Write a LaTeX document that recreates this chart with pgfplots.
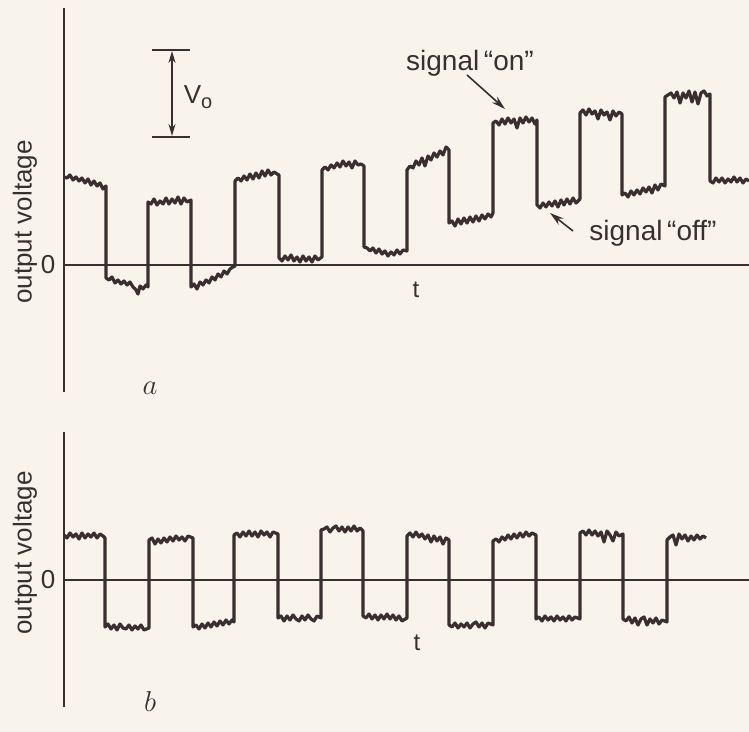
\documentclass[border=0pt]{standalone}
\usepackage{pgfplots}
\pgfplotsset{compat=1.18}
\usepackage{fontspec}
\setmainfont{Liberation Sans}
\usetikzlibrary{arrows.meta}
\definecolor{ink}{RGB}{58,46,48}
\definecolor{paper}{RGB}{248,244,236}

\pgfplotstableread{
x y
0 88
3 87
6 90
9 85
12 88
15 84
18 87
21 82
24 86
27 80
30 84
33 79
36 82
39 76
42 79
42 -13
45 -15
48 -12
51 -18
54 -15
57 -19
60 -16
63 -20
66 -17
69 -22
72 -25
74 -29
76 -21
79 -24
82 -20
84 -22
84 63
87 61
90 66
93 60
96 64
99 61
102 67
105 61
108 66
111 62
114 68
117 61
120 67
123 63
127 65
127 -22
130 -19
133 -24
136 -17
139 -20
142 -15
145 -18
148 -12
151 -15
154 -9
157 -12
160 -6
163 -9
166 -4
169 -2
171 -1
171 84
174 87
177 84
180 89
183 85
186 91
189 86
192 92
195 87
198 94
201 89
204 95
207 90
210 93
213 91
215 90
215 7
218 4
221 9
224 5
227 10
230 4
233 8
236 3
239 9
242 4
245 8
248 3
251 9
254 5
258 8
258 95
261 98
264 95
267 100
270 97
273 102
276 98
279 104
282 99
285 103
288 97
291 104
294 100
297 101
300 99
300 18
303 17
306 14
309 17
312 12
315 16
318 11
321 14
324 9
327 13
330 10
333 15
336 11
339 15
343 14
343 95
346 99
349 97
352 104
355 100
358 107
361 99
364 109
367 105
370 112
373 108
376 114
379 110
382 118
385 115
385 42
388 44
391 39
394 46
397 41
400 47
403 42
406 48
409 43
412 49
415 44
418 50
421 46
424 51
427 48
429 52
429 142
432 144
435 140
438 146
441 141
444 147
447 142
450 146
453 137
456 147
459 142
462 148
465 143
468 147
471 141
473 145
473 60
476 57
479 62
482 58
485 63
488 59
491 64
494 58
497 65
500 60
503 66
506 61
509 67
512 62
516 66
516 152
519 155
522 150
525 156
528 151
531 154
534 146
537 155
540 150
543 153
546 145
549 154
552 149
555 153
558 151
558 70
561 72
564 68
567 74
570 70
573 75
576 71
579 77
582 73
585 78
588 72
591 80
594 75
597 81
601 79
601 168
604 170
607 172
610 167
613 173
616 162
619 172
622 167
625 174
628 163
631 173
634 161
637 172
640 174
643 169
646 171
646 84
649 82
652 87
655 83
658 87
661 82
664 86
667 83
670 88
673 83
676 87
679 82
682 86
685 84
}\tracea

\pgfplotstableread{
x y
0 45
3 42
6 47
9 43
12 46
15 41
18 47
21 42
24 46
27 43
30 47
33 42
36 46
39 44
41 42
41 -47
44 -44
47 -49
50 -45
53 -50
56 -44
59 -48
62 -49
65 -45
68 -50
71 -46
74 -49
77 -45
80 -50
85 -48
85 40
88 42
91 36
94 41
97 37
100 42
103 38
106 43
109 39
112 44
115 40
118 43
121 39
124 44
129 42
129 -47
132 -45
135 -49
138 -44
141 -48
144 -43
147 -47
150 -42
153 -46
156 -41
159 -45
162 -40
165 -44
168 -40
170 -42
170 45
173 47
176 43
179 48
182 44
185 49
188 44
191 48
194 43
197 49
200 45
203 48
206 43
209 48
214 46
214 -38
217 -36
220 -41
223 -36
226 -40
229 -35
232 -39
235 -41
238 -36
241 -40
244 -35
247 -39
250 -41
253 -36
257 -38
257 50
260 51
263 53
266 48
269 52
272 54
275 49
278 53
281 48
284 53
287 49
290 54
293 49
296 52
299 49
299 -36
302 -38
305 -34
308 -39
311 -35
314 -40
317 -35
320 -39
323 -34
326 -39
329 -35
332 -40
335 -36
338 -41
343 -38
343 44
346 47
349 43
352 48
355 43
358 46
361 41
364 45
367 38
370 44
373 39
376 43
379 36
382 42
385 40
385 -45
388 -47
391 -43
394 -48
397 -44
400 -47
403 -43
406 -48
409 -44
412 -42
415 -47
418 -43
421 -48
424 -43
429 -45
429 39
432 41
435 38
438 43
441 40
444 45
447 41
450 46
453 42
456 47
459 43
462 48
465 44
468 47
472 45
472 -39
475 -37
478 -41
481 -36
484 -40
487 -37
490 -41
493 -36
496 -40
499 -37
502 -41
505 -36
508 -40
511 -37
516 -39
516 47
519 49
522 45
525 50
528 45
531 49
534 44
537 48
540 38
543 49
546 45
549 39
552 48
555 44
559 46
559 -39
562 -41
565 -37
568 -43
571 -38
574 -45
577 -39
580 -37
583 -45
586 -39
589 -43
592 -38
595 -44
598 -40
603 -42
603 40
606 43
609 45
612 35
615 46
618 41
621 45
624 39
627 44
630 40
633 45
636 41
639 44
642 42
}\traceb

\pgfplotsset{
  scopeaxis/.style={
    x=0.5pt, y=0.5pt,
    axis lines=middle,
    axis line style={-, line width=0.85pt, color=ink},
    every inner x axis line/.append style={-},
    every inner y axis line/.append style={-},
    enlargelimits=false,
    xmin=0, xmax=685,
    ticks=none,
    clip=false,
    anchor=origin,
  },
  sig/.style={color=ink, line width=1.6pt, line join=round, no markers},
}

\begin{document}
\begin{tikzpicture}
\useasboundingbox (0,0) rectangle (374.5pt,366pt);
\fill[paper] (0,0) rectangle (374.5pt,366pt);

% ---------- panel a ----------
\begin{axis}[scopeaxis, ymin=-127, ymax=257, at={(32pt,233.5pt)}]
\addplot[sig] table[x=x,y=y] {\tracea};
\node[text=ink, font=\fontsize{13}{15}\selectfont] at (axis cs:-16,0) {0};
\node[text=ink, rotate=90, font=\fontsize{13}{15}\selectfont] at (axis cs:-39,43) {output voltage};
\node[text=ink, font=\fontsize{15}{17}\selectfont] at (axis cs:86,-123) {$a$};
\node[text=ink, font=\fontsize{12}{14}\selectfont] at (axis cs:352,-25) {t};
% V0 scale bar
\draw[ink, line width=0.9pt] (axis cs:88,215) -- (axis cs:126,215);
\draw[ink, line width=0.9pt] (axis cs:88,128) -- (axis cs:126,128);
\draw[ink, line width=0.9pt, {Stealth[length=6pt,width=3.5pt]}-{Stealth[length=6pt,width=3.5pt]}] (axis cs:108,129) -- (axis cs:108,214);
\node[text=ink, font=\fontsize{13}{15}\selectfont] at (axis cs:134,168) {V\raisebox{-0.35ex}{\fontsize{10}{12}\selectfont o}};
% annotations
\node[text=ink, font=\fontsize{14}{16}\selectfont] at (axis cs:406,202) {signal\,``on''};
\draw[ink, line width=0.8pt, -{Stealth[length=7pt,width=4pt]}] (axis cs:403,190) -- (axis cs:441,156);
\node[text=ink, font=\fontsize{14}{16}\selectfont] at (axis cs:589,32) {signal\,``off''};
\draw[ink, line width=0.8pt, -{Stealth[length=7pt,width=4pt]}] (axis cs:509,34) -- (axis cs:486,52);
\end{axis}

% ---------- panel b ----------
\begin{axis}[scopeaxis, ymin=-127, ymax=148, at={(32pt,76pt)}]
\addplot[sig] table[x=x,y=y] {\traceb};
\node[text=ink, font=\fontsize{13}{15}\selectfont] at (axis cs:-16,0) {0};
\node[text=ink, rotate=90, font=\fontsize{13}{15}\selectfont] at (axis cs:-39,27) {output voltage};
\node[text=ink, font=\fontsize{15}{17}\selectfont] at (axis cs:86,-122) {$b$};
\node[text=ink, font=\fontsize{12}{14}\selectfont] at (axis cs:353,-63) {t};
\end{axis}
\end{tikzpicture}
\end{document}
